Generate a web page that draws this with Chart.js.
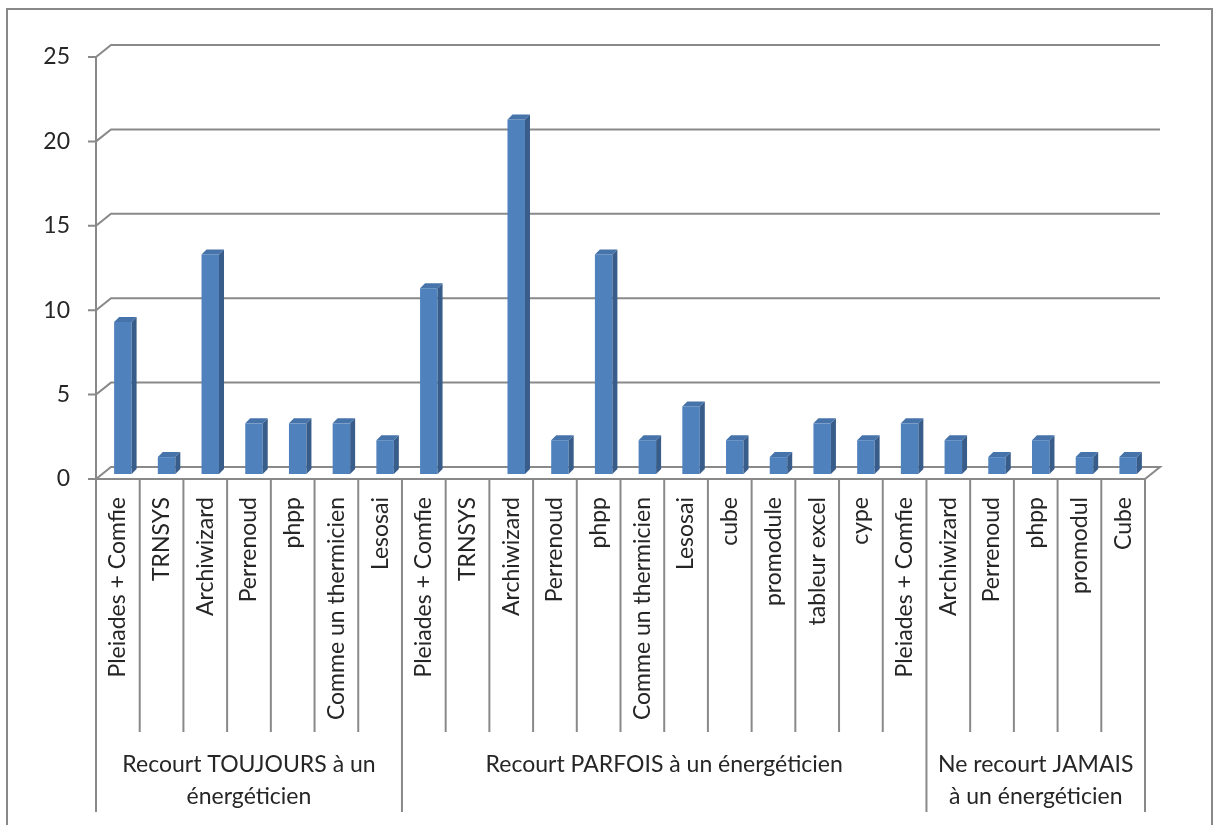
<!DOCTYPE html>
<html>
<head>
<meta charset="utf-8">
<script src="https://cdn.jsdelivr.net/npm/chart.js@4.4.0/dist/chart.umd.min.js"></script>
<style>
  html, body { margin: 0; padding: 0; background: #fff; }
  #wrap { position: relative; width: 1213px; height: 825px; }
</style>
</head>
<body>
<div id="wrap"><canvas id="graphique" width="1213" height="825"></canvas></div>
<script>
const logiciels = [
    'Pleiades + Comfie', 'TRNSYS', 'Archiwizard', 'Perrenoud', 'phpp', 'Comme un thermicien', 'Lesosai',
    'Pleiades + Comfie', 'TRNSYS', 'Archiwizard', 'Perrenoud', 'phpp', 'Comme un thermicien', 'Lesosai',
    'cube', 'promodule', 'tableur excel', 'cype', 'Pleiades + Comfie',
    'Archiwizard', 'Perrenoud', 'phpp', 'promodul', 'Cube'
];
const reponses = [9, 1, 13, 3, 3, 3, 2, 11, 0, 21, 2, 13, 2, 4, 2, 1, 3, 2, 3, 2, 1, 2, 1, 1];

const groupes = [
    ['Recourt TOUJOURS à un', 'énergéticien'],
    ['Recourt PARFOIS à un énergéticien'],
    ['Ne recourt JAMAIS', 'à un énergéticien']
];
const tailleGroupes = [7, 12, 5];

const yMin = 0;
const yMax = 25;
const yPas = 5;

const police = 'Lato, "DejaVu Sans", sans-serif';
const couleurTexte = '#262626';
const grisTrait = '#898989';
const profX = 15, profY = 12;   // profondeur des murs
const barX = 5, barY = 5;       // profondeur des barres

const decor3D = {
    id: 'decor3D',
    beforeDatasetsDraw(chart) {
        const { ctx, chartArea: ca, scales: { x, y } } = chart;
        ctx.save();
        ctx.strokeStyle = grisTrait;
        ctx.lineWidth = 2;
        // cadre (le bas sort de l'image)
        ctx.strokeRect(7, 9, 1205, 830);
        // axe vertical
        ctx.beginPath();
        ctx.moveTo(ca.left, y.getPixelForValue(yMax));
        ctx.lineTo(ca.left, y.getPixelForValue(yMin));
        ctx.stroke();
        // quadrillage sur le mur du fond
        for (let v = yMin; v <= yMax; v += yPas) {
            const py = y.getPixelForValue(v);
            ctx.beginPath();
            ctx.moveTo(ca.left - 8, py);
            ctx.lineTo(ca.left, py);
            ctx.lineTo(ca.left + profX, py - profY);
            ctx.lineTo(ca.right + profX, py - profY);
            if (v === yMin) {
                ctx.lineTo(ca.right, py);
                ctx.lineTo(ca.left, py);
            }
            ctx.stroke();
        }
        // séparateurs des catégories
        const bas = y.getPixelForValue(yMin);
        const largeur = (ca.right - ca.left) / logiciels.length;
        const limites = [0];
        tailleGroupes.forEach(n => limites.push(limites[limites.length - 1] + n));
        for (let i = 0; i <= logiciels.length; i++) {
            const px = ca.left + i * largeur;
            ctx.beginPath();
            ctx.moveTo(px, bas);
            ctx.lineTo(px, limites.includes(i) ? 812 : 732);
            ctx.stroke();
        }
        // étiquettes des groupes
        ctx.fillStyle = couleurTexte;
        ctx.font = '23px ' + police;
        ctx.textAlign = 'center';
        ctx.textBaseline = 'middle';
        groupes.forEach((lignes, g) => {
            const cx = ca.left + (limites[g] + limites[g + 1]) / 2 * largeur;
            lignes.forEach((t, k) => ctx.fillText(t, cx, 765 + k * 32));
        });
        ctx.restore();

        // les barres sont dessinées un peu en retrait
        ctx.save();
        ctx.translate(barX, -barY);
    },
    afterDatasetsDraw(chart) {
        const { ctx } = chart;
        const meta = chart.getDatasetMeta(0);
        meta.data.forEach((bar, i) => {
            if (!reponses[i]) return;
            const { x, y, base, width } = bar.getProps(['x', 'y', 'base', 'width'], true);
            const g = x - width / 2, d = x + width / 2;
            ctx.fillStyle = '#385d8a';
            ctx.beginPath();
            ctx.moveTo(d, y);
            ctx.lineTo(d + barX, y - barY);
            ctx.lineTo(d + barX, base - barY);
            ctx.lineTo(d, base);
            ctx.closePath();
            ctx.fill();
            ctx.fillStyle = '#4673aa';
            ctx.beginPath();
            ctx.moveTo(g, y);
            ctx.lineTo(g + barX, y - barY);
            ctx.lineTo(d + barX, y - barY);
            ctx.lineTo(d, y);
            ctx.closePath();
            ctx.fill();
        });
        ctx.restore();
    }
};

new Chart(document.getElementById('graphique'), {
    type: 'bar',
    data: {
        labels: logiciels,
        datasets: [{
            data: reponses,
            backgroundColor: '#4f81bd',
            borderWidth: 0,
            categoryPercentage: 1,
            barPercentage: 0.4
        }]
    },
    options: {
        responsive: false,
        animation: false,
        layout: { padding: { left: 0, top: 57, right: 68, bottom: 0 } },
        plugins: { legend: { display: false }, tooltip: { enabled: false } },
        scales: {
            x: {
                afterFit: s => { s.height = 346; },
                grid: { display: false, drawTicks: false },
                border: { display: false },
                ticks: {
                    autoSkip: false,
                    minRotation: 90,
                    maxRotation: 90,
                    padding: 18,
                    color: couleurTexte,
                    font: { family: police, size: 23 }
                }
            },
            y: {
                min: yMin,
                max: yMax,
                afterFit: s => { s.width = 96; },
                grid: { display: false, drawTicks: false },
                border: { display: false },
                ticks: {
                    stepSize: yPas,
                    padding: 26,
                    color: couleurTexte,
                    font: { family: police, size: 23 }
                }
            }
        }
    },
    plugins: [decor3D]
});
</script>
</body>
</html>
